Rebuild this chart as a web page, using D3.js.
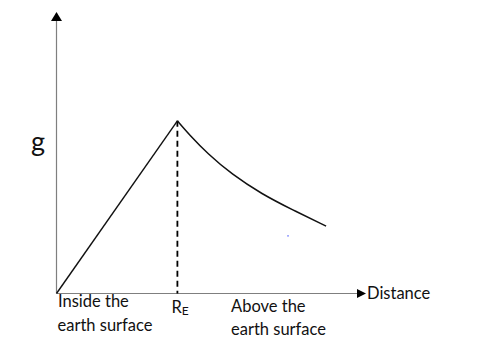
<!DOCTYPE html>
<html>
<head>
<meta charset="utf-8">
<script src="https://cdn.jsdelivr.net/npm/d3@7"></script>
<style>
  body { margin: 0; background: #fff; }
  text { font-family: Lato, "Open Sans", sans-serif; fill: #111; }
</style>
</head>
<body>
<div id="chart"></div>
<script>
// Distance in units of R_E, g in units of surface g
const insidePoints = [[0, 0], [1, 1]];
const abovePoints = [[1, 1], [1.1, 0.918], [1.25, 0.81], [1.45, 0.69], [1.7, 0.575], [1.95, 0.485], [2.23, 0.39]];
const surfaceX = 1;
const xMax = 2.56, yMax = 1.63;
const strayDot = [1.91, 0.337];

const width = 496, height = 348;
const svg = d3.select("#chart").append("svg")
    .attr("width", width).attr("height", height);

const x = d3.scaleLinear().domain([0, xMax]).range([56.5, 366]);
const y = d3.scaleLinear().domain([0, yMax]).range([293.5, 12]);

// Axes (plain lines with arrow heads)
svg.append("line")
    .attr("x1", x(0)).attr("x2", x(0))
    .attr("y1", y(0)).attr("y2", y(yMax) + 8)
    .attr("stroke", "#7f7f7f").attr("stroke-width", 1.2);
svg.append("path")
    .attr("d", `M${x(0)},${y(yMax)} L${x(0) - 5.5},${y(yMax) + 9} L${x(0) + 5.5},${y(yMax) + 9} Z`)
    .attr("fill", "#000");

svg.append("line")
    .attr("x1", x(0)).attr("x2", x(xMax) - 9)
    .attr("y1", y(0)).attr("y2", y(0))
    .attr("stroke", "#7f7f7f").attr("stroke-width", 1.2);
svg.append("path")
    .attr("d", `M${x(xMax)},${y(0)} L${x(xMax) - 9},${y(0) - 4.5} L${x(xMax) - 9},${y(0) + 4.5} Z`)
    .attr("fill", "#000");

// Dashed line at the surface
svg.append("line")
    .attr("x1", x(surfaceX)).attr("x2", x(surfaceX))
    .attr("y1", y(1)).attr("y2", y(0))
    .attr("stroke", "#000").attr("stroke-width", 1.8)
    .attr("stroke-dasharray", "6,4");

const line = d3.line().x(d => x(d[0])).y(d => y(d[1]));

svg.append("path")
    .attr("d", line(insidePoints))
    .attr("fill", "none").attr("stroke", "#111").attr("stroke-width", 1.4);

svg.append("path")
    .attr("d", line.curve(d3.curveBasis)(abovePoints))
    .attr("fill", "none").attr("stroke", "#111").attr("stroke-width", 1.5);

svg.append("rect")
    .attr("x", x(strayDot[0])).attr("y", y(strayDot[1]))
    .attr("width", 1.2).attr("height", 1.2).attr("fill", "#2a3cff");

// Labels
svg.append("text").attr("x", 31).attr("y", 151)
    .style("font-size", "27px").text("g");

svg.append("text").attr("x", x(0) + 1.5).attr("y", 307)
    .style("font-size", "16.5px").text("Inside the");
svg.append("text").attr("x", x(0) + 1).attr("y", 331)
    .style("font-size", "16.5px").text("earth surface");

const re = svg.append("text").attr("x", x(surfaceX) - 6).attr("y", 313)
    .style("font-size", "16.5px");
re.append("tspan").text("R");
re.append("tspan").attr("dy", 2).style("font-size", "12px").text("E");

svg.append("text").attr("x", 231).attr("y", 312)
    .style("font-size", "16.5px").text("Above the");
svg.append("text").attr("x", 231).attr("y", 335)
    .style("font-size", "16.5px").text("earth surface");

svg.append("text").attr("x", x(xMax) + 1).attr("y", 299)
    .style("font-size", "16.5px").text("Distance");
</script>
</body>
</html>
